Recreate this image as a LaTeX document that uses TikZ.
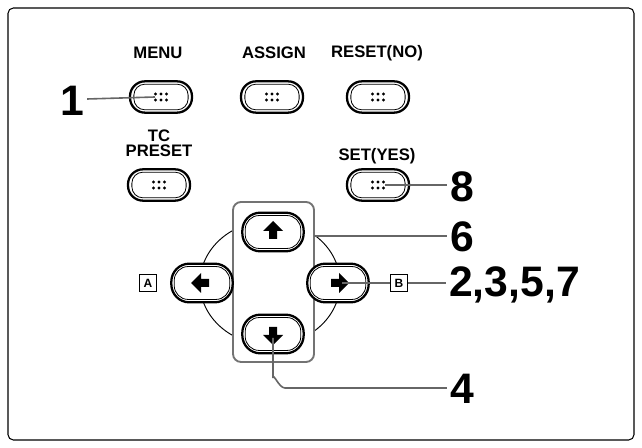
\documentclass[tikz,border=0pt]{standalone}
\usepackage{fontspec}
\setmainfont{Liberation Sans}
\usetikzlibrary{calc}
\begin{document}
\begin{tikzpicture}[x=0.75pt,y=-0.75pt,
 btn/.style={draw,line width=1.7pt,fill=white,rounded corners=15*0.75pt,minimum width=46.5pt,minimum height=23.5pt,inner sep=0pt},
 dbtn/.style={draw,line width=1.7pt,fill=white,rounded corners=18*0.75pt,minimum width=46pt,minimum height=29pt,inner sep=0pt},
 lbl/.style={font=\bfseries\fontsize{12.5}{11}\selectfont,align=center,inner sep=0pt},
 num/.style={font=\bfseries\fontsize{32}{32}\selectfont,inner sep=0pt},
 lead/.style={draw=black!60,line width=1.2pt},
 box/.style={draw,fill=white,line width=0.8pt,minimum size=13pt,inner sep=0pt,font=\bfseries\small}]
\useasboundingbox (0,0) rectangle (642,448);
\draw[line width=0.8pt,rounded corners=4pt] (8,8) rectangle (634,440);
% labels
\node[lbl] (lmenu) at (158,53) {MENU};
\node[lbl] (lassign) at (274,53) {ASSIGN};
\node[lbl] (lreset) at (377,53) {RESET(NO)};
\node[lbl] (ltc) at (159,143) {TC\\PRESET};
\node[lbl] (lset) at (377,156) {SET(YES)};
% buttons
\foreach \n/\x/\y in {menu/161/97,assign/272/97,reset/378/97,tc/159/185,set/378/185}{
 \node[btn] (\n) at (\x,\y) {};
 \draw[line width=0.6pt,rounded corners=11*0.75pt] ($(\n.south west)+(5,-4)$) rectangle ($(\n.north east)+(-5,4)$);
 \foreach \dx in {-5.5,0,5.5}\foreach \dy in {-3,3}\fill (\x+\dx,\y+\dy) circle (1.3pt);
}
% dpad
\draw[line width=0.7pt] (270,283) ellipse [x radius=70,y radius=62];
\draw[line width=1.4pt,black!55,fill=white,rounded corners=6pt] (233,202) rectangle (314,362);
\foreach \n/\x/\y/\r in {up/273/232/90,down/273/334/-90,left/202/283/180,right/338/283/0}{
 \node[dbtn] (\n) at (\x,\y) {};
 \draw[line width=0.6pt,rounded corners=14*0.75pt] ($(\n.south west)+(4,-4)$) rectangle ($(\n.north east)+(-4,4)$);
 \fill[rotate around={\r:(\x,\y)}] (\x-7,\y-4) -- (\x+1,\y-4) -- (\x+1,\y-10) -- (\x+11,\y) -- (\x+1,\y+10) -- (\x+1,\y+4) -- (\x-7,\y+4) -- cycle;
}
% numbers
\node[num] (n1) at (72,101) {1};
\node[num] (n8) at (462,187) {8};
\node[num] (n6) at (462,237) {6};
\node[num,anchor=west] (n2) at (449,285) {2,3,5,7};
\node[num] (n4) at (462,389) {4};
\coordinate (c1) at (155,97);
\coordinate (c8) at (385,185);
\coordinate (c6) at (314,236);
\coordinate (c2) at (342,283);
\coordinate (c4) at (273,338);
\draw[lead] ($(n1.east)+(3,-2)$) -- (c1);
\draw[lead] (c8) -- ($(n8.west)+(-3,-2)$);
\draw[lead] (c6) -- ($(n6.west)+(-3,-1)$);
\draw[lead] (c2) -- ($(n2.west)+(-3,-2)$);
\draw[lead] (c4) -- (273,378) to[out=90,in=180] (285,388) -- ($(n4.west)+(-3,-1)$);
\node[box] (A) at (148,283) {A};
\node[box] (B) at (399,283) {B};
\end{tikzpicture}
\end{document}
